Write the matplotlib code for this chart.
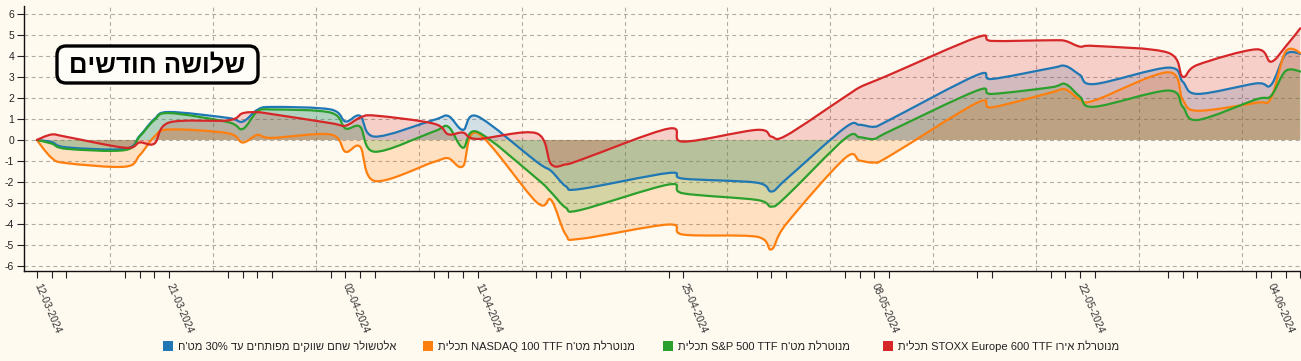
import re
from datetime import datetime
import matplotlib
matplotlib.use("Agg")
import matplotlib.pyplot as plt
import matplotlib.dates as mdates
from matplotlib.path import Path
from matplotlib.patches import PathPatch, FancyBboxPatch, Rectangle
from matplotlib.transforms import IdentityTransform

plt.rcParams['font.family'] = ['Liberation Sans', 'DejaVu Sans']
plt.rcParams['axes.unicode_minus'] = False

# ---------------- data ----------------
dates = ["2024-03-12", "2024-03-13", "2024-03-14", "2024-03-18", "2024-03-19", "2024-03-20",
         "2024-03-21", "2024-03-25", "2024-03-26", "2024-03-27", "2024-03-28",
         "2024-04-01", "2024-04-02", "2024-04-03", "2024-04-04", "2024-04-08", "2024-04-09",
         "2024-04-10", "2024-04-11", "2024-04-15", "2024-04-16", "2024-04-17", "2024-04-18",
         "2024-04-24", "2024-04-25", "2024-04-30",
         "2024-05-01", "2024-05-02", "2024-05-06", "2024-05-07", "2024-05-08", "2024-05-09",
         "2024-05-15", "2024-05-16", "2024-05-20", "2024-05-21", "2024-05-22", "2024-05-23",
         "2024-05-28", "2024-05-29", "2024-05-30",
         "2024-06-03", "2024-06-04", "2024-06-05", "2024-06-06"]

altshuler = [0, -0.10, -0.35, -0.42, 0.20, 1.00, 1.33, 1.05, 0.87, 1.43, 1.57,
             1.45, 0.88, 1.15, 0.16, 0.95, 1.14, 0.48, 1.12, -1.03, -1.47, -2.20, -2.33,
             -1.57, -1.84, -2.03,
             -2.45, -1.87, 0.58, 0.72, 0.63, 0.94, 3.09, 2.90, 3.41, 3.52, 3.09, 2.66,
             3.44, 2.77, 2.19, 2.69, 2.61, 4.07, 4.09]

nasdaq = [0, -0.85, -1.10, -1.27, -0.72, 0.16, 0.50, 0.32, -0.12, 0.24, 0.10,
          0.26, -0.56, -0.32, -1.95, -1.05, -0.87, -1.25, 0.32, -2.95, -2.85, -4.50, -4.70,
          -4.02, -4.50, -4.60,
          -5.20, -4.00, -0.87, -0.98, -1.07, -0.78, 1.77, 1.55, 2.25, 2.41, 1.93, 1.88,
          3.22, 1.90, 1.39, 1.77, 1.98, 4.20, 4.12]

sp500 = [0, -0.17, -0.42, -0.48, 0.17, 0.95, 1.28, 0.85, 0.52, 1.35, 1.45,
         1.30, 0.55, 0.63, -0.56, 0.40, 0.63, -0.37, 0.38, -1.82, -2.49, -3.22, -3.33,
         -2.12, -2.54, -2.85,
         -3.17, -2.69, 0.06, 0.13, 0.05, 0.40, 2.35, 2.19, 2.50, 2.66, 2.06, 1.58,
         2.35, 1.58, 0.95, 1.93, 2.09, 3.28, 3.25]

stoxx = [0, 0.26, 0.15, -0.37, -0.12, -0.17, 0.83, 0.93, 1.27, 1.32, 1.23,
         0.80, 0.68, 1.06, 1.16, 0.78, 0.27, 0.35, 0.05, 0.32, -1.15, -1.16, -0.95,
         0.54, -0.08, 0.48,
         0.16, 0.21, 2.05, 2.50, 2.80, 3.09, 4.88, 4.71, 4.74, 4.71, 4.44, 4.47,
         4.15, 3.01, 3.57, 4.31, 3.72, 4.44, 5.31]

series_labels = ["אלטשולר שחם שווקים מפותחים עד 30% מט'ח",
                 "מנוטרלת מט'ח NASDAQ 100 TTF תכלית",
                 "מנוטרלת מט'ח S&P 500 TTF תכלית",
                 "מנוטרלת אירו STOXX Europe 600 TTF תכלית"]
colors = ["#1f77b4", "#ff7f0e", "#2ca02c", "#d62728"]
title_text = "שלושה חודשים"
y_ticks = list(range(-6, 7))
label_every = 6

# ---------------- helpers ----------------
def visual(s):
    """Convert logical RTL text to visual (left-to-right) order."""
    parts = re.split(r"([A-Za-z0-9&%][A-Za-z0-9&% ]*[A-Za-z0-9&%]|[A-Za-z0-9&%])", s)
    out = []
    for i, p in enumerate(parts):
        out.append(p if i % 2 == 1 else p[::-1])
    return "".join(reversed(out))


def cardinal_path(xs, ys, close=False):
    k = 1.0 / 6.0
    n = len(xs)
    verts = [(xs[0], ys[0])]
    codes = [Path.MOVETO]
    for i in range(n - 1):
        if i == 0:
            c1 = (xs[0], ys[0])
        else:
            c1 = (xs[i] + k * (xs[i + 1] - xs[i - 1]), ys[i] + k * (ys[i + 1] - ys[i - 1]))
        if i + 1 == n - 1:
            c2 = (xs[i + 1], ys[i + 1])
        else:
            c2 = (xs[i + 1] + k * (xs[i] - xs[i + 2]), ys[i + 1] + k * (ys[i] - ys[i + 2]))
        verts += [c1, c2, (xs[i + 1], ys[i + 1])]
        codes += [Path.CURVE4] * 3
    if close:
        verts += [(xs[-1], 0), (xs[0], 0), (xs[0], ys[0])]
        codes += [Path.LINETO, Path.LINETO, Path.CLOSEPOLY]
    return Path(verts, codes)


# ---------------- figure ----------------
W, H = 1301, 361
bg = "#fffaf0"
fig = plt.figure(figsize=(W / 100, H / 100), dpi=100, facecolor=bg)
ax = fig.add_axes([24 / W, 90 / H, 1277 / W, 265 / H])
ax.set_facecolor(bg)

x = [mdates.date2num(datetime.strptime(d, "%Y-%m-%d")) for d in dates]
all_series = [altshuler, nasdaq, sp500, stoxx]

for vals, c in zip(all_series, colors):
    ax.add_patch(PathPatch(cardinal_path(x, vals, close=True), facecolor=c, alpha=0.2,
                           edgecolor="none", zorder=2))
for vals, c in zip(all_series, colors):
    ax.add_patch(PathPatch(cardinal_path(x, vals), facecolor="none", edgecolor=c,
                           lw=1.6, zorder=3, capstyle="round", joinstyle="round"))

ax.set_xlim(x[0] - 0.88, x[-1] + 0.05)
ax.set_ylim(-6.23, 6.37)

# y axis
ax.set_yticks(y_ticks)
ax.set_yticklabels([str(v) for v in y_ticks], fontsize=7.5, color="#222")
ax.tick_params(axis="y", length=5, width=0.8, pad=2, color="#222")

# x axis: a tick for every data date, label every 6th
ax.set_xticks(x)
xlabels = [datetime.strptime(d, "%Y-%m-%d").strftime("%d-%m-%Y") if i % label_every == 0 else ""
           for i, d in enumerate(dates)]
ax.set_xticklabels(xlabels, fontsize=7.5, color="#333")
for lab in ax.get_xticklabels():
    lab.set_rotation(-67)
    lab.set_rotation_mode("anchor")
    lab.set_ha("left")
    lab.set_va("center")
ax.tick_params(axis="x", length=5, width=0.8, pad=4, color="#222")

# weekly vertical grid (Sundays)
ax.xaxis.set_minor_locator(mdates.WeekdayLocator(byweekday=mdates.SU))
ax.tick_params(axis="x", which="minor", length=0)
ax.grid(True, which="minor", axis="x", color="#b0aca4", lw=0.8, ls=(0, (3.5, 3)))
ax.grid(True, which="major", axis="y", color="#b0aca4", lw=0.8, ls=(0, (3.5, 3)))
ax.grid(False, which="major", axis="x")
ax.set_axisbelow(True)

for s in ["top", "right"]:
    ax.spines[s].set_visible(False)
for s in ["left", "bottom"]:
    ax.spines[s].set_color("#111")
    ax.spines[s].set_linewidth(1.0)

# title box (pixel coordinates)
box = FancyBboxPatch((57, H - 83), 201, 37, boxstyle="round,pad=0,rounding_size=9",
                     transform=IdentityTransform(), facecolor="#fffdf8", edgecolor="black",
                     lw=2.4, zorder=10)
fig.patches.append(box)
fig.text(157.5 / W, 1 - 65 / H, visual(title_text), fontsize=18.5, fontweight="bold",
         ha="center", va="center", zorder=11)

# legend
sq_x = [163, 423, 663, 883]
for sx, lab, c in zip(sq_x, series_labels, colors):
    fig.patches.append(Rectangle((sx, H - 351), 10, 10, transform=IdentityTransform(),
                                 facecolor=c, edgecolor="none"))
    fig.text((sx + 15) / W, 1 - 346.5 / H, visual(lab), fontsize=8, color="#222",
             ha="left", va="center")

fig.savefig("out.png", dpi=100, facecolor=bg)
